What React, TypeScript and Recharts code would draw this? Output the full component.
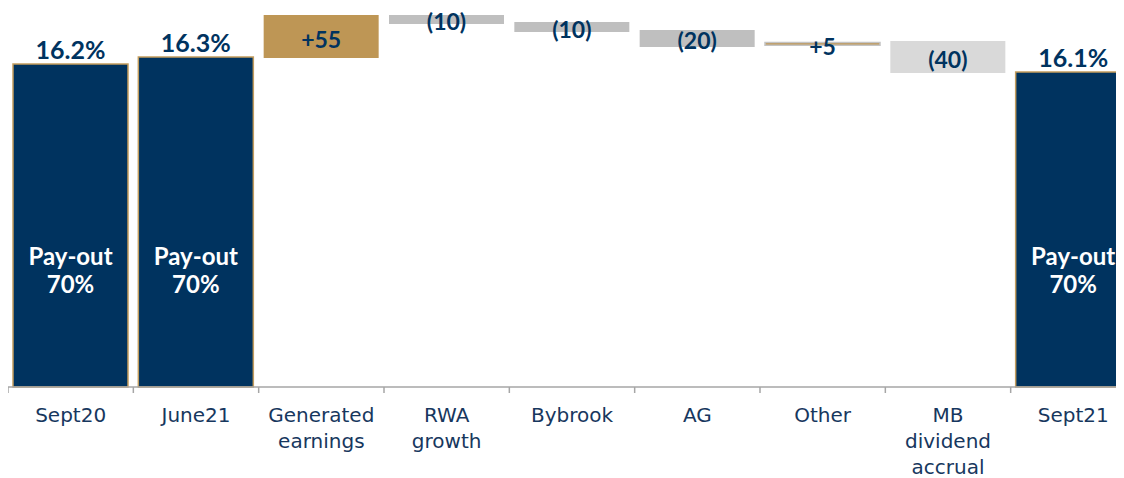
import { Bar, BarChart, Cell, LabelList, XAxis, YAxis } from 'recharts'

// categories on the x axis ("\n" = line break in the tick)
const categories = [
  'Sept20',
  'June21',
  'Generated\nearnings',
  'RWA\ngrowth',
  'Bybrook',
  'AG',
  'Other',
  'MB\ndividend\naccrual',
  'Sept21',
]

// bar bottoms / tops (same visual scale as the totals)
const barLow = [0, 0, 16.49, 18.2, 17.8, 17.05, 17.13, 15.74, 0]
const barHigh = [16.19, 16.54, 18.65, 18.65, 18.3, 17.9, 17.27, 17.35, 15.79]

// printed labels
const valueLabels = ['16.2%', '16.3%', '+55', '(10)', '(10)', '(20)', '+5', '(40)', '16.1%']
const barKinds = ['total', 'total', 'up', 'down', 'down', 'down', 'other', 'down2', 'total']
const payoutLabels = ['70%', '70%', '', '', '', '', '', '', '70%']

const NAVY = '#00335F'
const GOLD = '#BE9655'
const BOLD_FONT = 'Lato, "Open Sans", sans-serif'
const AXIS_FONT = '"DejaVu Sans", sans-serif'
const CHART_W = 1128
const BAND = CHART_W / categories.length

const data = categories.map((name, i) => ({
  name,
  range: [barLow[i], barHigh[i]],
  label: valueLabels[i],
  kind: barKinds[i],
  payout: payoutLabels[i],
}))

function fillFor(kind: string) {
  if (kind === 'total') return NAVY
  if (kind === 'up' || kind === 'other') return GOLD
  if (kind === 'down2') return '#D9D9D9'
  return '#BFBFBF'
}

function strokeFor(kind: string) {
  if (kind === 'total') return '#C39D5E'
  if (kind === 'other') return '#C4C4C4'
  return 'none'
}

function CategoryTick(props: any) {
  const { x, y, payload, index } = props
  const lines = String(payload.value).split('\n')
  const axisY = y - 8
  const left = x - BAND / 2
  return (
    <g>
      <line x1={left} x2={left} y1={axisY} y2={axisY + 6} stroke="#A6A6A6" strokeWidth={1.5} />
      {index === categories.length - 1 && (
        <line x1={left + BAND} x2={left + BAND} y1={axisY} y2={axisY + 6} stroke="#A6A6A6" strokeWidth={1.5} />
      )}
      <text x={x} y={y + 27} textAnchor="middle" fill="#17375E" fontFamily={AXIS_FONT} fontSize={20}>
        {lines.map((line, i) => (
          <tspan key={i} x={x} dy={i === 0 ? 0 : 26}>
            {line}
          </tspan>
        ))}
      </text>
    </g>
  )
}

function ValueLabel(props: any) {
  const { x, y, width, height, index } = props
  const row = data[index]
  const cx = x + width / 2
  if (row.kind === 'total') {
    return (
      <text x={cx} y={y - 5} textAnchor="middle" fill={NAVY} fontFamily={BOLD_FONT} fontWeight={700} fontSize={25}>
        {row.label}
      </text>
    )
  }
  return (
    <text
      x={cx}
      y={y + height / 2 + 2}
      textAnchor="middle"
      dominantBaseline="central"
      fill={NAVY}
      fontFamily={BOLD_FONT}
      fontWeight={700}
      fontSize={23}
    >
      {row.label}
    </text>
  )
}

function PayoutLabel(props: any) {
  const { x, y, width, height, index } = props
  const row = data[index]
  if (!row.payout) return null
  const cx = x + width / 2
  const bottom = y + height
  return (
    <text textAnchor="middle" fill="#FFFFFF" fontFamily={BOLD_FONT} fontWeight={700} fontSize={24}>
      <tspan x={cx} y={bottom - 122}>Pay-out</tspan>
      <tspan x={cx} y={bottom - 94}>{row.payout}</tspan>
    </text>
  )
}

export default function App() {
  return (
    <div style={{ width: 1116, height: 470, overflow: 'hidden' }}>
      <style>{'body { overflow: hidden; }'}</style>
      <BarChart width={CHART_W} height={470} data={data} margin={{ top: 0, right: 0, left: 0, bottom: 0 }}>
        <XAxis
          dataKey="name"
          interval={0}
          height={91}
          axisLine={{ stroke: '#A6A6A6', strokeWidth: 1.5 }}
          tickLine={false}
          tickSize={6}
          tick={<CategoryTick />}
          scale="band"
        />
        <YAxis hide domain={[0, 19]} />
        <Bar dataKey="range" barSize={115} isAnimationActive={false}>
          {data.map((row, i) => (
            <Cell key={i} fill={fillFor(row.kind)} stroke={strokeFor(row.kind)} strokeWidth={1.5} />
          ))}
          <LabelList dataKey="label" content={<ValueLabel />} />
          <LabelList dataKey="payout" content={<PayoutLabel />} />
        </Bar>
      </BarChart>
    </div>
  )
}
